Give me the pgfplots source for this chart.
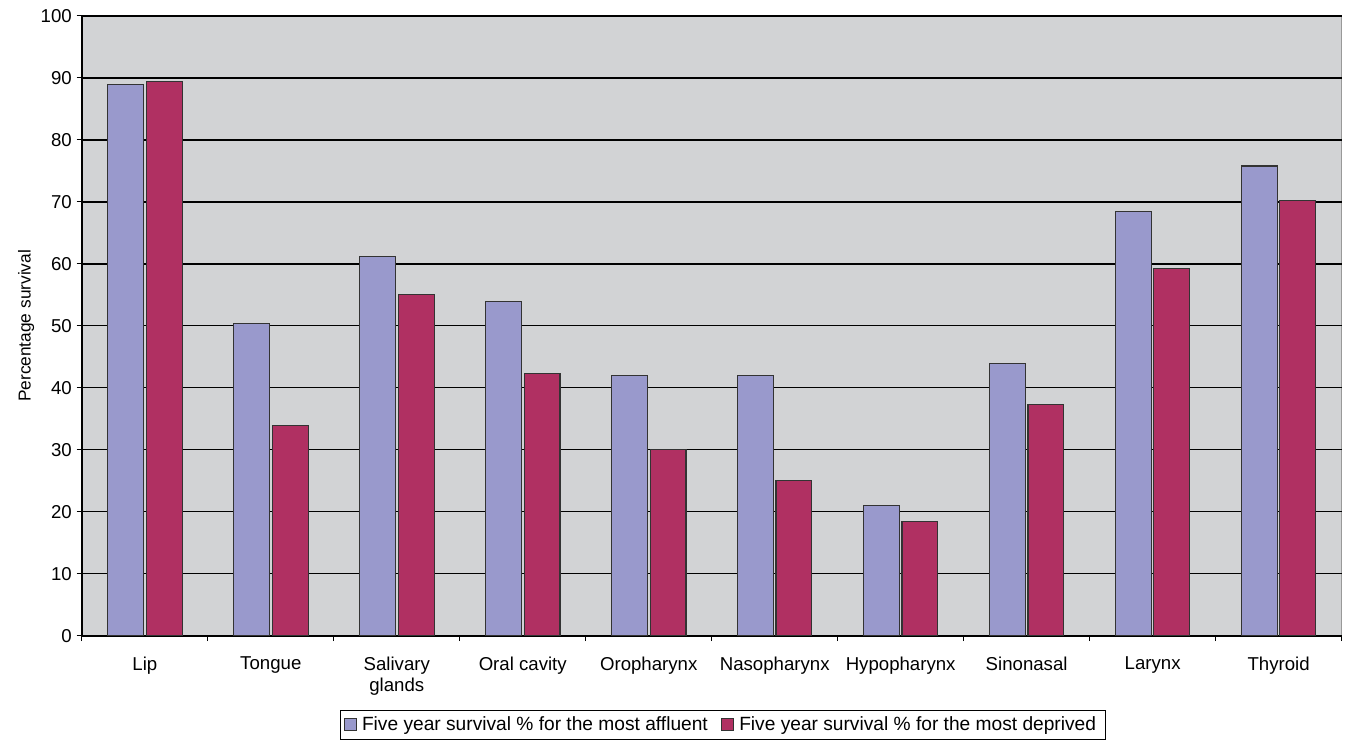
\documentclass[border=0pt]{standalone}
\usepackage{fontspec}
\setmainfont{Liberation Sans}
\usepackage{pgfplots}
\pgfplotsset{compat=1.18}

\definecolor{affluent}{RGB}{153,153,204}
\definecolor{deprived}{RGB}{176,48,98}
\definecolor{plotbg}{RGB}{210,211,213}

\begin{document}
\begin{tikzpicture}[x=1pt,y=1pt]
% frame fixing the page to the full picture extent
\path (-61.5,-78) rectangle (948,477.75);
\begin{axis}[
  at={(0,0)}, anchor=south west,
  scale only axis,
  width=946.5pt, height=465.75pt,
  ybar, bar width=27pt,
  xmin=-0.5, xmax=9.5,
  ymin=0, ymax=100,
  ytick={0,10,...,100},
  % boundary ticks between categories
  xtick={-0.5,0.5,...,9.5},
  xticklabels={},
  x tick style={black, line width=0.8pt},
  % category names centred under each group
  extra x ticks={0,...,9},
  extra x tick labels={Lip,Tongue,{Salivary\\glands},Oral cavity,Oropharynx,Nasopharynx,Hypopharynx,Sinonasal,Larynx,Thyroid},
  extra x tick style={major tick length=0pt, tick style={draw=none}},
  xticklabel style={align=center, text depth=0pt, yshift=-12pt},
  tick align=outside,
  major tick length=4pt,
  y tick style={black, line width=0.8pt},
  axis x line*=bottom, axis y line*=left,
  axis line style={black, line width=1pt, -},
  axis background/.style={fill=plotbg, draw=gray!80, line width=0.8pt},
  ymajorgrids,
  major grid style={black, line width=0.9pt},
  tick label style={font=\fontsize{14}{16.5}\selectfont},
  /pgf/number format/assume math mode=true,
  ylabel={Percentage survival},
  ylabel style={font=\fontsize{13}{15}\selectfont, yshift=-2pt},
  legend columns=2,
  legend style={
    at={(rel axis cs:0.5087,-0.119)}, anchor=north,
    draw=black, fill=white, line width=0.6pt,
    font=\fontsize{14.4}{17}\selectfont,
    inner xsep=3pt, inner ysep=3pt,
    /tikz/every even column/.append style={column sep=6pt},
    /tikz/every odd column/.append style={column sep=0pt},
    nodes={inner xsep=4pt},
  },
  legend image code/.code={\draw[#1, line width=0.6pt] (0pt,-4.5pt) rectangle (9pt,4.5pt);},
  every axis plot/.append style={draw=black!80, line width=0.8pt},
]
\addplot[fill=affluent] coordinates {
  (0,89.0) (1,50.4) (2,61.2) (3,53.9) (4,42.0)
  (5,42.0) (6,21.0) (7,44.0) (8,68.4) (9,75.8)};
\addlegendentry{Five year survival \% for the most affluent}
\addplot[fill=deprived] coordinates {
  (0,89.5) (1,34.0) (2,55.0) (3,42.3) (4,30.0)
  (5,25.1) (6,18.4) (7,37.3) (8,59.2) (9,70.3)};
\addlegendentry{Five year survival \% for the most deprived}
\end{axis}
\end{tikzpicture}
\end{document}
